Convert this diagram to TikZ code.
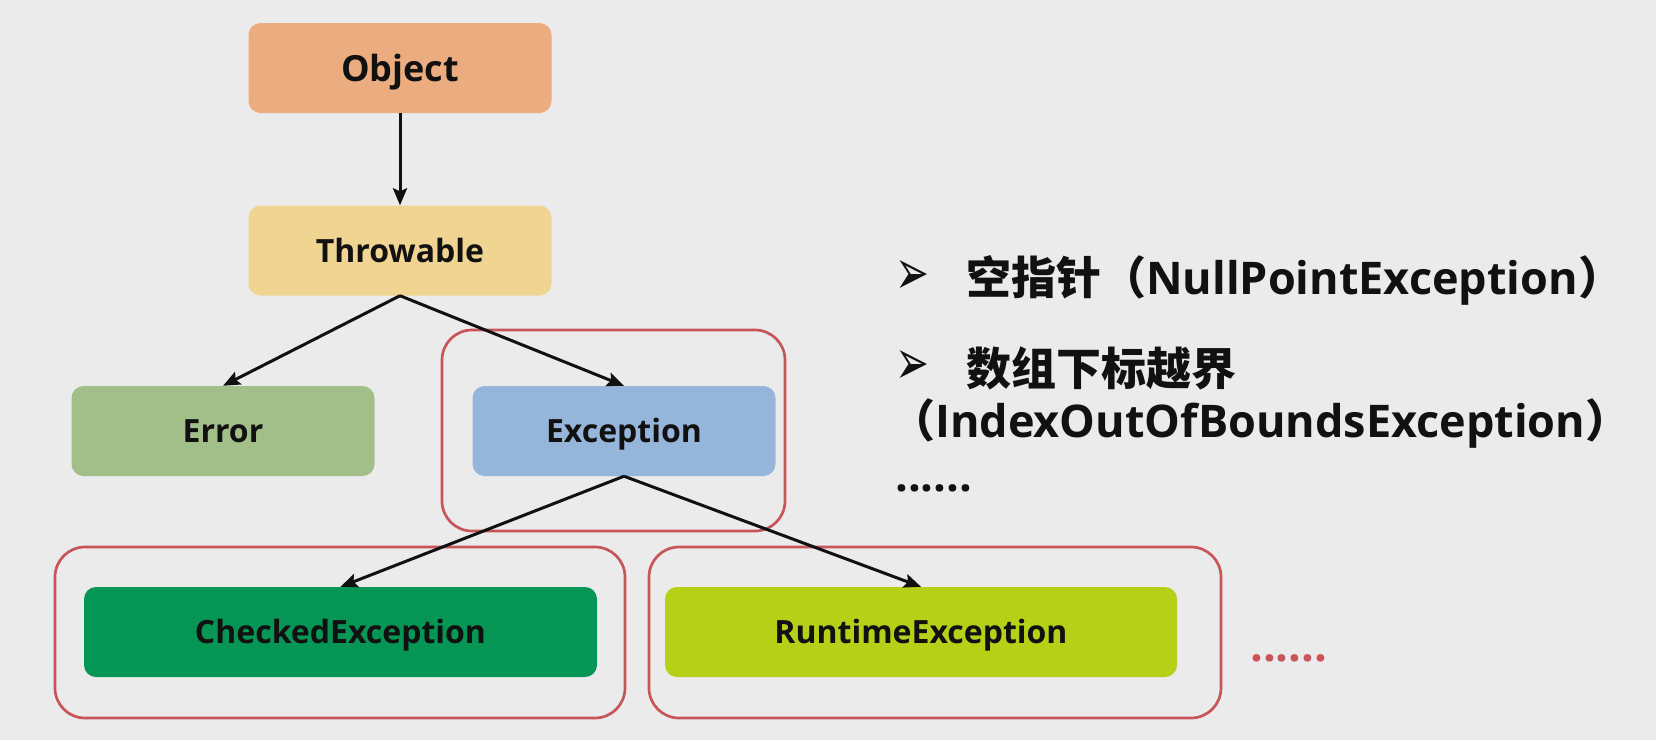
\documentclass[tikz,border=0pt]{standalone}
\usepackage{fontspec}
\setmainfont{Open Sans}
\newfontfamily\cjk{Noto Sans CJK SC}
\newfontfamily\symf{DejaVu Sans}
\usetikzlibrary{arrows.meta}
\definecolor{bg}{RGB}{235,235,235}
\definecolor{cObj}{RGB}{235,172,128}
\definecolor{cThr}{RGB}{240,213,146}
\definecolor{cErr}{RGB}{162,191,138}
\definecolor{cExc}{RGB}{149,182,218}
\definecolor{cChk}{RGB}{5,149,84}
\definecolor{cRun}{RGB}{182,208,23}
\definecolor{cRed}{RGB}{200,85,90}
\definecolor{ink}{RGB}{17,17,17}
\begin{document}
\begin{tikzpicture}[x=1pt,y=-1pt,
  box/.style={rounded corners=12pt, inner sep=0pt, minimum width=303pt, minimum height=90pt,
    text height=23pt, text depth=0pt,
    text=ink, font=\bfseries\fontsize{32}{38}\selectfont},
  frame/.style={draw=cRed, line width=2.7pt, rounded corners=30pt, inner sep=0pt},
  arr/.style={draw=ink, line width=3pt, -{Stealth[length=17pt,width=14pt,inset=3pt]}},
  rtxt/.style={anchor=base west, inner sep=0pt, text=ink, font=\bfseries\fontsize{45}{54}\selectfont},
  bul/.style={anchor=center, inner sep=0pt, text=ink, font=\symf\fontsize{32}{38}\selectfont}]
\fill[bg] (0,0) rectangle (1656,740);
\useasboundingbox (0,0) rectangle (1656,740);
% frames
\node[frame, minimum width=343pt, minimum height=201pt] (fexc) at (613.5,430.5) {};
\node[frame, minimum width=570pt, minimum height=171pt] (fchk) at (340,632.5) {};
\node[frame, minimum width=572pt, minimum height=171pt] (frun) at (935,632.5) {};
% boxes
\node[box, fill=cObj, text height=26pt, font=\bfseries\fontsize{36}{43}\selectfont] (obj) at (400,68) {Object};
\node[box, fill=cThr] (thr) at (400,250.5) {Throwable};
\node[box, fill=cErr] (err) at (223,431) {Error};
\node[box, fill=cExc] (exc) at (624,431) {Exception};
\node[box, fill=cChk, minimum width=513pt] (chk) at (340.5,632) {CheckedException};
\node[box, fill=cRun, minimum width=512pt] (run) at (921,632) {RuntimeException};
% arrows
\draw[arr] (obj.south) -- (thr.north);
\draw[arr] (thr.south) -- (err.north);
\draw[arr] (thr.south) -- (exc.north);
\draw[arr] (exc.south) -- (chk.north);
\draw[arr] (exc.south) -- (run.north);
% red dots
\node[rtxt, text=cRed] (rdots) at (1250,661) {......};
% right text
\node[bul] (b1) at (912,277) {\resizebox{34pt}{34pt}{➢}};
\node[rtxt] (t1) at (966,294) {{\cjk\bfseries 空指针（}NullPointException{\cjk\bfseries ）}};
\node[bul] (b2) at (912,367) {\resizebox{34pt}{34pt}{➢}};
\node[rtxt] (t2) at (966,385) {{\cjk\bfseries 数组下标越界}};
\node[rtxt] (t3) at (890,437) {{\cjk\bfseries （}IndexOutOfBoundsException{\cjk\bfseries ）}};
\node[rtxt] (t4) at (895,491) {......};
\end{tikzpicture}
\end{document}
